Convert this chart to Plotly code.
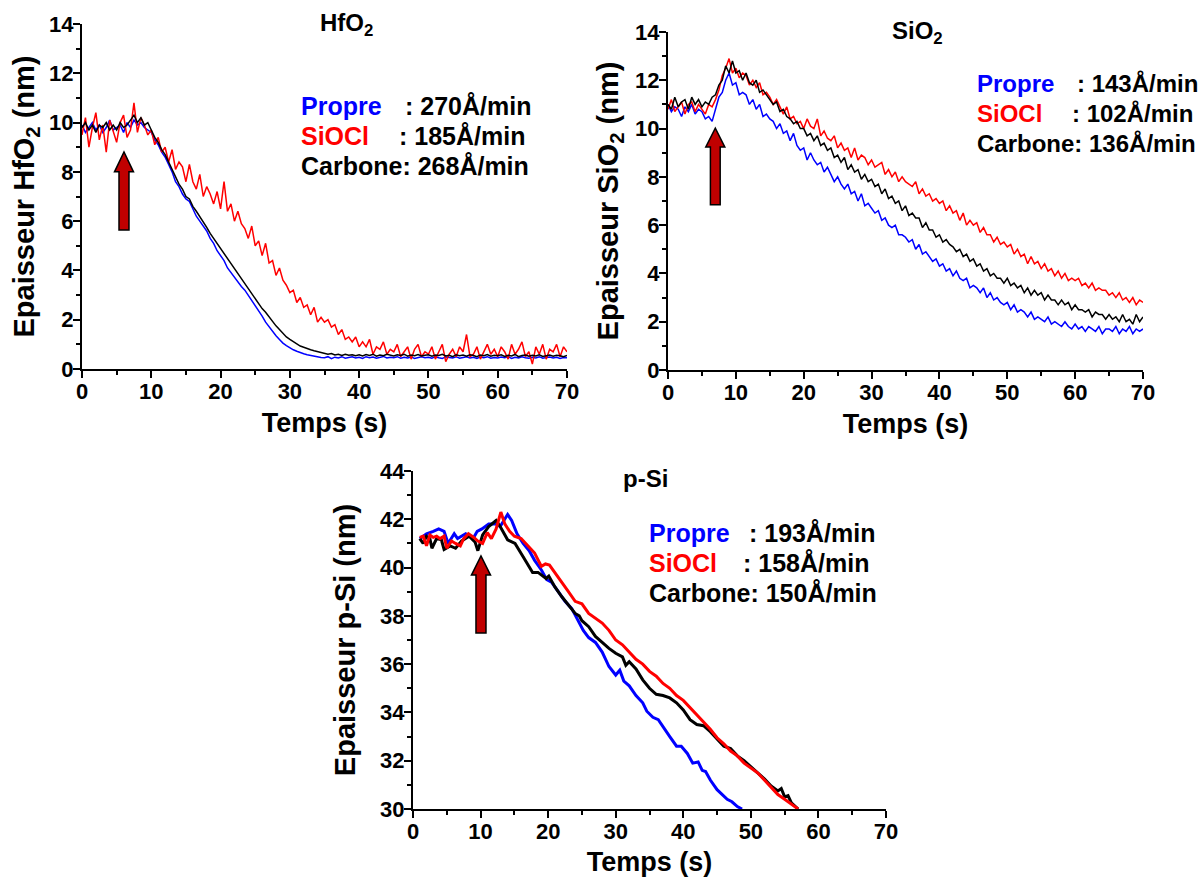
import plotly.graph_objects as go

FONT = "Liberation Sans, Arial, sans-serif"
W, H = 1203, 877

# ---------------- data ----------------
# common sampling grid for the HfO2 / SiO2 ellipsometry traces (s)
T_TOP = [round(0.5 * i, 1) for i in range(141)]

HFO2_PROPRE = [
    9.9, 9.6, 9.8, 10.0, 9.7, 9.9, 9.6, 9.8, 10.1, 9.7,
    9.8, 9.9, 9.6, 10.0, 9.8, 10.1, 9.9, 10.0, 9.8, 9.7,
    9.6, 9.3, 9.1, 8.8, 8.6, 8.3, 8.0, 7.6, 7.4, 7.1,
    6.9, 6.8, 6.5, 6.2, 6.0, 5.8, 5.6, 5.3, 5.1, 4.8,
    4.6, 4.4, 4.1, 3.9, 3.75, 3.55, 3.35, 3.2, 3.0, 2.8,
    2.6, 2.35, 2.15, 1.9, 1.7, 1.55, 1.35, 1.2, 1.05, 0.95,
    0.85, 0.78, 0.72, 0.66, 0.62, 0.58, 0.55, 0.5, 0.5, 0.47,
    0.46, 0.5, 0.42, 0.48, 0.45, 0.5, 0.44, 0.47, 0.5, 0.45,
    0.48, 0.43, 0.5, 0.46, 0.49, 0.44, 0.47, 0.51, 0.45, 0.48,
    0.46, 0.5, 0.44, 0.48, 0.45, 0.49, 0.43, 0.47, 0.5, 0.46,
    0.48, 0.44, 0.5, 0.46, 0.43, 0.49, 0.47, 0.45, 0.5, 0.44,
    0.47, 0.5, 0.45, 0.48, 0.43, 0.49, 0.46, 0.5, 0.44, 0.47,
    0.45, 0.49, 0.46, 0.5, 0.43, 0.48, 0.45, 0.5, 0.46, 0.44,
    0.48, 0.45, 0.5, 0.44, 0.47, 0.49, 0.45, 0.48, 0.43, 0.47,
    0.46,
]
HFO2_SIOCL = [
    9.5, 10.2, 9.0, 9.8, 10.4, 9.3, 9.9, 8.8, 10.1, 9.6,
    9.2, 10.0, 10.3, 9.4, 9.7, 10.8, 9.6, 10.2, 9.9, 9.5,
    9.7, 9.1, 9.4, 8.8, 9.0, 8.4, 8.9, 8.1, 8.4, 8.2,
    7.6, 8.3, 7.6, 7.3, 7.9, 7.0, 7.4, 7.1, 6.7, 7.2,
    6.5, 7.6, 6.4, 6.7, 6.0, 6.4, 5.9, 5.7, 5.3, 5.8,
    5.0, 5.2, 4.6, 5.1, 4.3, 4.4, 3.8, 4.1, 3.6, 3.4,
    3.1, 3.2, 2.7, 2.9, 2.5, 2.6, 2.2, 2.5, 1.9, 2.1,
    1.9, 2.0, 1.7, 1.8, 1.4, 1.6, 1.2, 1.3, 1.1, 1.3,
    0.9, 1.1, 0.9, 1.2, 0.6, 0.9, 0.8, 1.1, 0.6, 0.8,
    0.7, 1.0, 0.5, 0.7, 0.9, 0.4, 0.8, 1.0, 0.5, 0.7,
    0.6, 0.9, 0.4, 0.7, 1.0, 0.3, 0.6, 0.8, 0.5, 0.9,
    0.7, 1.4, 0.5, 0.6, 0.9, 0.4, 0.7, 1.0, 0.6, 0.8,
    0.5, 0.9, 0.7, 0.4, 1.0, 0.6, 0.8, 1.1, 0.5, 0.7,
    0.2, 0.9, 0.6, 1.0, 0.4, 0.8, 0.7, 1.0, 0.5, 0.9,
    0.7,
]
HFO2_CARBONE = [
    9.8, 10.0, 9.7, 9.9, 9.6, 9.9, 9.8, 10.0, 9.7, 9.9,
    9.7, 10.0, 9.8, 9.9, 10.1, 10.3, 10.0, 10.2, 9.9, 10.0,
    9.7, 9.4, 9.2, 8.9, 8.7, 8.4, 8.1, 7.8, 7.5, 7.3,
    7.0, 6.9, 6.6, 6.4, 6.2, 6.0, 5.75, 5.5, 5.3, 5.1,
    4.85, 4.65, 4.45, 4.25, 4.05, 3.85, 3.65, 3.45, 3.25, 3.05,
    2.85, 2.65, 2.45, 2.3, 2.1, 1.9, 1.75, 1.6, 1.45, 1.3,
    1.2, 1.1, 1.0, 0.93, 0.88, 0.82, 0.78, 0.74, 0.7, 0.67,
    0.65, 0.6, 0.63, 0.57, 0.6, 0.55, 0.6, 0.56, 0.58, 0.54,
    0.58, 0.53, 0.59, 0.55, 0.6, 0.52, 0.57, 0.54, 0.6, 0.55,
    0.53, 0.58, 0.55, 0.6, 0.52, 0.57, 0.54, 0.59, 0.53, 0.56,
    0.58, 0.52, 0.57, 0.55, 0.6, 0.53, 0.56, 0.5, 0.58, 0.54,
    0.57, 0.52, 0.58, 0.55, 0.5, 0.57, 0.54, 0.59, 0.52, 0.56,
    0.54, 0.58, 0.51, 0.56, 0.53, 0.59, 0.5, 0.55, 0.57, 0.52,
    0.56, 0.53, 0.58, 0.51, 0.55, 0.57, 0.52, 0.56, 0.54, 0.5,
    0.55,
]

SIO2_PROPRE = [
    11.0, 10.7, 10.9, 10.8, 10.5, 10.9, 10.7, 11.0, 10.6, 10.8,
    10.7, 10.4, 10.5, 10.3, 10.8, 11.3, 11.5, 12.0, 12.3, 11.8,
    11.9, 11.4, 11.5, 11.4, 11.0, 11.2, 10.8, 11.0, 10.5, 10.6,
    10.4, 10.3, 10.0, 10.2, 9.8, 9.9, 9.5, 9.8, 9.3, 9.1,
    9.2, 8.7, 9.0, 8.7, 8.5, 8.6, 8.2, 8.4, 8.1, 7.8,
    8.0, 7.7, 7.5, 7.7, 7.3, 7.4, 7.0, 7.3, 6.8, 6.9,
    6.7, 6.5, 6.6, 6.2, 6.3, 6.0, 5.9, 6.0, 5.6, 5.6,
    5.5, 5.3, 5.4, 5.0, 5.2, 4.8, 4.9, 4.7, 4.5, 4.6,
    4.3, 4.4, 4.1, 4.2, 3.9, 4.1, 3.8, 3.7, 3.8, 3.4,
    3.5, 3.4, 3.2, 3.4, 3.0, 3.2, 2.9, 3.0, 2.8, 2.7,
    2.8, 2.5, 2.7, 2.4, 2.5, 2.4, 2.2, 2.4, 2.1, 2.2,
    2.1, 2.0, 2.2, 1.9, 2.0, 1.9, 1.8, 2.0, 1.8, 1.7,
    1.9, 1.7, 1.8, 1.6, 1.8, 1.7, 1.6, 1.8, 1.5, 1.7,
    1.7, 1.6, 1.8, 1.5, 1.7, 1.6, 1.8, 1.5, 1.7, 1.6,
    1.7,
]
SIO2_SIOCL = [
    10.8, 11.2, 10.7, 10.9, 11.1, 10.6, 11.0, 11.1, 10.7, 11.0,
    10.8, 10.6, 11.0, 10.9, 11.2, 11.6, 12.2, 12.5, 12.9, 12.3,
    12.5, 12.1, 12.3, 12.2, 11.8, 12.0, 11.7, 11.9, 11.4, 11.5,
    11.3, 11.0, 11.2, 10.9, 10.6, 10.9, 10.4, 10.5, 10.2, 10.3,
    10.0, 10.4, 10.1, 10.0, 10.4, 9.7, 9.9, 9.6, 9.5, 9.7,
    9.2, 9.4, 9.1, 9.2, 8.8, 9.2, 8.7, 8.9, 8.8, 8.5,
    8.7, 8.4, 8.5, 8.6, 8.1, 8.3, 8.0, 8.2, 7.8, 8.0,
    7.8, 7.7, 7.6, 7.8, 7.3, 7.5, 7.2, 7.3, 7.0, 7.1,
    6.9, 7.0, 6.6, 6.8, 6.5, 6.6, 6.2, 6.5, 6.0, 6.2,
    6.0, 6.1, 5.7, 5.9, 5.6, 5.6, 5.3, 5.5, 5.2, 5.3,
    5.1, 5.2, 4.8, 5.0, 4.7, 4.8, 4.4, 4.7, 4.4, 4.5,
    4.2, 4.4, 4.1, 4.2, 3.9, 4.1, 3.8, 4.0, 3.7, 3.8,
    3.7, 3.8, 3.5, 3.6, 3.4, 3.6, 3.3, 3.4, 3.3, 3.3,
    3.1, 3.2, 3.0, 3.2, 2.9, 3.0, 2.8, 3.0, 2.7, 2.9,
    2.8,
]
SIO2_CARBONE = [
    11.0, 10.8, 11.3, 10.9, 11.1, 11.2, 10.8, 11.3, 11.0, 11.2,
    10.9, 11.1, 11.0, 11.3, 11.4, 11.8, 12.0, 12.6, 12.3, 12.8,
    12.3, 12.4, 12.0, 12.3, 11.9, 11.8, 12.0, 11.5, 11.6, 11.4,
    11.2, 11.0, 11.1, 10.7, 10.8, 10.5, 10.4, 10.2, 10.3, 10.0,
    10.0, 9.7, 9.8, 9.5, 9.7, 9.3, 9.4, 9.1, 9.2, 8.8,
    8.9, 8.6, 8.8, 8.3, 8.5, 8.2, 8.3, 7.9, 8.1, 7.8,
    7.9, 7.6, 7.7, 7.3, 7.5, 7.1, 7.2, 6.9, 7.0, 6.6,
    6.8, 6.4, 6.5, 6.3, 6.3, 5.9, 6.1, 5.8, 5.8, 5.5,
    5.6, 5.3, 5.4, 5.2, 5.1, 4.9, 5.0, 4.7, 4.8, 4.5,
    4.6, 4.3, 4.4, 4.1, 4.2, 3.9, 4.0, 3.8, 3.8, 3.6,
    3.8, 3.5, 3.6, 3.4, 3.5, 3.2, 3.4, 3.1, 3.3, 3.1,
    3.2, 2.9, 3.1, 2.9, 2.9, 2.7, 2.9, 2.7, 2.8, 2.5,
    2.7, 2.5, 2.5, 2.4, 2.5, 2.2, 2.4, 2.3, 2.3, 2.1,
    2.3, 2.1, 2.2, 2.0, 2.3, 2.0, 2.1, 1.9, 2.3, 2.0,
    2.2,
]

PSI_PROPRE_T = [1, 2, 3, 3.8, 4.6, 5.2, 6.1, 6.6, 7.8, 8.9, 9.5, 10.2, 11.2, 12.3,
                12.9, 14.0, 14.6, 15.4, 16.3, 17.2, 18.0, 19.0, 19.8, 20.5, 21.5,
                22.5, 23.5, 24.5, 25.2, 26.0, 27.0, 28.0, 29.0, 30.0, 30.6, 31.2,
                32.0, 33.0, 34.0, 34.6, 35.5, 36.3, 37.0, 38.0, 39.0, 39.7, 40.6,
                41.4, 42.2, 42.8, 43.3, 44.0, 45.0, 45.8, 46.5, 47.2, 48.0, 48.7]
PSI_PROPRE = [41.2, 41.4, 41.5, 41.6, 41.5, 41.0, 41.4, 41.2, 41.4, 41.2, 41.5, 41.6,
              41.8, 41.8, 41.7, 42.2, 41.95, 41.4, 41.0, 40.7, 40.3, 39.9, 39.5,
              39.4, 39.0, 38.6, 38.3, 37.8, 37.4, 37.1, 36.9, 36.5, 35.9, 35.55,
              35.75, 35.3, 35.1, 34.7, 34.4, 34.05, 33.8, 33.7, 33.4, 33.0, 32.6,
              32.6, 32.3, 31.9, 31.95, 31.6, 31.55, 31.2, 30.8, 30.6, 30.4, 30.3,
              30.1, 30.0]

PSI_SIOCL_T = [1, 1.5, 2, 2.5, 3, 3.5, 4, 4.6, 5, 5.7, 6.3, 7, 7.5, 8.2, 9, 9.6,
               10.3, 11, 11.6, 12.3, 13.0, 13.6, 14.3, 15, 16, 17, 18, 19, 19.6,
               20.2, 21, 22, 23, 24, 25, 26, 27, 28, 29, 30, 31, 32, 33, 34, 35,
               36, 37, 38, 39, 40, 41, 42, 43, 44, 45, 46, 47, 48, 49, 50, 51, 52,
               53, 54, 55, 56, 57]
PSI_SIOCL = [41.25, 41.3, 40.9, 41.35, 41.25, 41.3, 41.2, 41.3, 40.8, 41.1, 41.0,
             40.9, 41.2, 41.4, 41.25, 41.1, 41.0, 41.45, 41.2, 41.6, 42.3, 41.8,
             41.5, 41.3, 41.2, 40.9, 40.6, 40.05, 40.15, 40.1, 39.8, 39.4, 39.0,
             38.6, 38.5, 38.1, 37.9, 37.7, 37.4, 37.0, 36.8, 36.5, 36.2, 36.0,
             35.7, 35.5, 35.2, 35.0, 34.7, 34.5, 34.2, 33.9, 33.6, 33.3, 32.95,
             32.7, 32.4, 32.2, 31.9, 31.7, 31.5, 31.2, 30.9, 30.6, 30.4, 30.2, 30.0]

PSI_CARBONE_T = [1, 1.5, 2, 2.5, 2.8, 3.5, 4.2, 4.6, 5.5, 6.3, 7.2, 8.3, 9.2, 9.6,
                 10.3, 11.2, 12.3, 12.9, 14, 15.1, 16.3, 17.7, 18.5, 19.2, 19.7,
                 20.1, 21, 22, 23, 24, 24.6, 25, 26, 27, 28, 29, 30, 31, 31.5, 32,
                 33, 34, 35, 36, 37, 38, 39, 40, 41, 42, 43, 44, 45, 46, 47, 48, 49,
                 50, 51, 52, 53, 54, 54.5, 55, 55.5, 56, 57]
PSI_CARBONE = [41.2, 41.0, 41.3, 41.2, 40.8, 41.2, 41.15, 40.75, 40.9, 40.8, 41.1,
               41.3, 41.05, 40.7, 41.35, 41.7, 41.95, 41.7, 41.15, 41.0, 40.45,
               39.8, 39.8, 39.65, 39.55, 39.65, 39.2, 38.8, 38.45, 38.1, 38.0, 37.8,
               37.55, 37.15, 36.9, 36.65, 36.45, 36.3, 35.95, 36.1, 35.8, 35.35,
               35.0, 34.75, 34.7, 34.6, 34.4, 34.1, 33.7, 33.5, 33.45, 33.2, 32.9,
               32.6, 32.5, 32.2, 32.0, 31.75, 31.5, 31.25, 30.95, 30.75, 30.85,
               30.5, 30.55, 30.25, 30.0]

LABELS = ["Propre", "SiOCl", "Carbone"]
RATES_HFO2 = [": 270Å/min", ": 185Å/min", ": 268Å/min"]
RATES_SIO2 = [": 143Å/min", ": 102Å/min", ": 136Å/min"]
RATES_PSI = [": 193Å/min", ": 158Å/min", ": 150Å/min"]

BLUE, RED, BLACK = "#0000FF", "#FF0000", "#000000"
ARROW_FILL = "#C00000"

# ---------------- figure ----------------
fig = go.Figure()


def add(xa, ya, x, y, color, width, name):
    fig.add_trace(go.Scatter(x=x, y=y, mode="lines", name=name,
                             line=dict(color=color, width=width),
                             xaxis=xa, yaxis=ya, showlegend=False,
                             hoverinfo="skip"))


add("x", "y", T_TOP, HFO2_PROPRE, BLUE, 1.5, "Propre")
add("x", "y", T_TOP, HFO2_SIOCL, RED, 1.5, "SiOCl")
add("x", "y", T_TOP, HFO2_CARBONE, BLACK, 1.5, "Carbone")

add("x2", "y2", T_TOP, SIO2_PROPRE, BLUE, 1.5, "Propre")
add("x2", "y2", T_TOP, SIO2_SIOCL, RED, 1.5, "SiOCl")
add("x2", "y2", T_TOP, SIO2_CARBONE, BLACK, 1.5, "Carbone")

add("x3", "y3", PSI_PROPRE_T, PSI_PROPRE, BLUE, 3, "Propre")
add("x3", "y3", PSI_CARBONE_T, PSI_CARBONE, BLACK, 3, "Carbone")
add("x3", "y3", PSI_SIOCL_T, PSI_SIOCL, RED, 3, "SiOCl")


def px_x(p):
    return p / W


def px_y(p):
    return 1 - p / H


TICKFONT = dict(family=FONT, size=22, color="black", weight="bold")


def xaxis(dom, anchor, standoff):
    return dict(domain=dom, anchor=anchor, range=[0, 70], dtick=10, tick0=0,
                showline=True, linecolor="black", linewidth=2, mirror=False,
                ticks="outside", ticklen=7, tickwidth=2, tickcolor="black",
                ticklabelstandoff=-5,
                showgrid=False, zeroline=False, automargin=False,
                tickfont=TICKFONT,
                minor=dict(dtick=5, tick0=0, ticks="outside", ticklen=4,
                           tickwidth=2, tickcolor="black", showgrid=False),
                title=dict(text="Temps (s)", standoff=standoff,
                           font=dict(family=FONT, size=27, color="black",
                                     weight="bold")))


def yaxis(dom, anchor, rng, title, standoff):
    return dict(domain=dom, anchor=anchor, range=rng, dtick=2, tick0=0,
                showline=True, linecolor="black", linewidth=2,
                ticks="outside", ticklen=7, tickwidth=2, tickcolor="black",
                ticklabelstandoff=-5,
                showgrid=False, zeroline=False, automargin=False,
                tickfont=TICKFONT,
                minor=dict(dtick=1, ticks="outside", ticklen=4, tickwidth=2,
                           tickcolor="black", showgrid=False),
                title=dict(text=title, standoff=standoff,
                           font=dict(family=FONT, size=29, color="black",
                                     weight="bold")))


fig.update_layout(
    xaxis=xaxis([px_x(82), px_x(567)], "y", 10),
    yaxis=yaxis([px_y(369), px_y(24)], "x", [0, 14],
                "Epaisseur HfO<sub>2</sub> (nm)", 6),
    xaxis2=xaxis([px_x(668), px_x(1143)], "y2", 10),
    yaxis2=yaxis([px_y(370), px_y(32)], "x2", [0, 14],
                 "Epaisseur SiO<sub>2</sub> (nm)", 8),
    xaxis3=xaxis([px_x(413), px_x(886)], "y3", 10),
    yaxis3=yaxis([px_y(809), px_y(471)], "x3", [30, 44],
                 "Epaisseur p-Si (nm)", 16),
)

# ---------------- annotations ----------------
ann = []


def text(x, y, s, color="black", size=25, anchor="left"):
    ann.append(dict(x=px_x(x), y=px_y(y), xref="paper", yref="paper",
                    text=s, showarrow=False, xanchor=anchor, yanchor="middle",
                    font=dict(family=FONT, size=size, color=color,
                              weight="bold")))


text(346, 24, "HfO<sub>2</sub>", size=24, anchor="center")
text(917, 32, "SiO<sub>2</sub>", size=24, anchor="center")
text(645, 478, "p-Si", size=24, anchor="center")

COLORS = [BLUE, RED, BLACK]


def rate_block(x0, y0, rate_x, rates, size):
    for i, (lab, col, rate) in enumerate(zip(LABELS, COLORS, rates)):
        y = y0 + 30 * i
        if i < 2:
            text(x0, y, lab, col, size)
            text(rate_x[i], y, rate, "black", size)
        else:
            text(x0, y, lab + rate, col, size)


rate_block(299, 106, [403, 397], RATES_HFO2, 25)
rate_block(975, 84, [1075, 1070], RATES_SIO2, 24)
rate_block(647, 533, [747, 741], RATES_PSI, 25)

fig.update_layout(annotations=ann)

# ---------------- block arrows (plasma ignition) ----------------
ARROWS = [
    # xref, yref, x centre, tip, head base, tail, half shaft, half head
    ("x", "y", 6.06, 8.81, 8.0, 5.64, 0.72, 1.37),
    ("x2", "y2", 6.97, 10.02, 9.24, 6.84, 0.72, 1.40),
    ("x3", "y3", 10.06, 40.48, 39.69, 37.29, 0.74, 1.41),
]
shapes = []
for xr, yr, xc, tip, hb, tail, hs, hh in ARROWS:
    path = (f"M {xc - hs},{tail} L {xc - hs},{hb} L {xc - hh},{hb} "
            f"L {xc},{tip} L {xc + hh},{hb} L {xc + hs},{hb} "
            f"L {xc + hs},{tail} Z")
    shapes.append(dict(type="path", path=path, xref=xr, yref=yr,
                       fillcolor=ARROW_FILL, line=dict(color="black", width=1.5),
                       layer="above"))

fig.update_layout(
    shapes=shapes,
    template="none",
    width=W, height=H,
    margin=dict(l=0, r=0, t=0, b=0, pad=0),
    paper_bgcolor="white", plot_bgcolor="white",
    font=dict(family=FONT, color="black"),
    showlegend=False,
)

fig.write_html("out.html",
               config={"displayModeBar": False},
               post_script="document.body.style.margin='0px';"
                           "document.body.style.overflow='hidden';")
